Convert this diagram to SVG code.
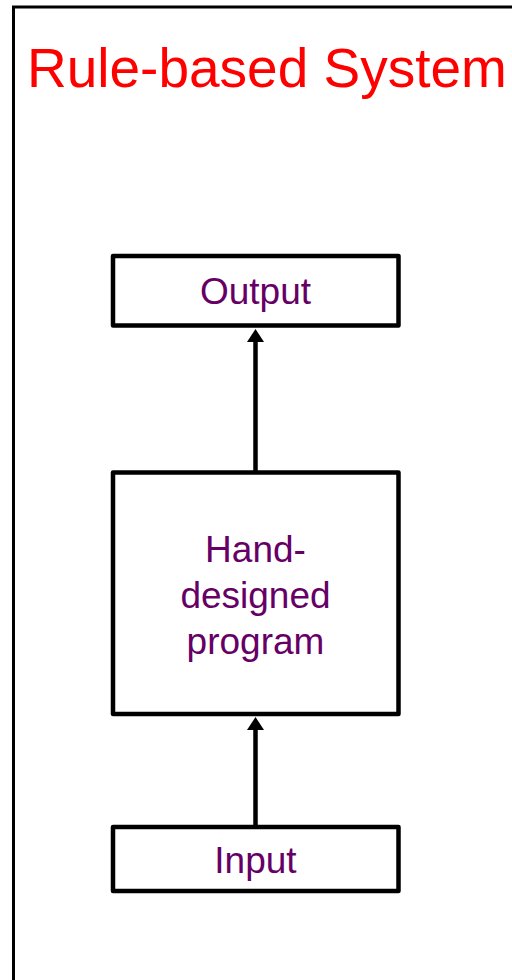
<svg xmlns="http://www.w3.org/2000/svg" width="512" height="980" viewBox="0 0 512 980">
  <style>
    .box { fill: #ffffff; stroke: #000000; stroke-width: 4.5; stroke-linejoin: round; }
    .lbl { font-family: "Liberation Sans", Arial, sans-serif; font-size: 37px; fill: #660066; text-anchor: middle; }
    .title { font-family: "Liberation Sans", Arial, sans-serif; font-size: 55px; fill: #ff0000; }
    .conn { stroke: #000000; stroke-width: 4.5; fill: none; }
  </style>
  <defs>
    <marker id="arrow" markerUnits="userSpaceOnUse" markerWidth="13" markerHeight="17" viewBox="0 0 13 17" refX="7" refY="8.5" orient="auto">
      <path d="M0,0 L13,8.5 L0,17 z" fill="#000000"/>
    </marker>
  </defs>
  <rect x="0" y="0" width="512" height="980" fill="#ffffff"/>
  <g id="frame">
    <rect x="13.5" y="7" width="600" height="1000" fill="none" stroke="#000000" stroke-width="3"/>
  </g>
  <g id="title">
    <text class="title" x="27" y="87">Rule-based System</text>
  </g>
  <g id="connectors">
    <line class="conn" x1="255.5" y1="472" x2="255.5" y2="335" marker-end="url(#arrow)"/>
    <line class="conn" x1="255.5" y1="827" x2="255.5" y2="723" marker-end="url(#arrow)"/>
  </g>
  <g id="output">
    <rect class="box" x="113" y="256" width="285.5" height="69.5"/>
    <text class="lbl" x="255.5" y="304">Output</text>
  </g>
  <g id="program">
    <rect class="box" x="113" y="472.5" width="285.5" height="241.5"/>
    <text class="lbl" x="255.5" y="562">Hand-</text>
    <text class="lbl" x="255.5" y="608">designed</text>
    <text class="lbl" x="255.5" y="654">program</text>
  </g>
  <g id="input">
    <rect class="box" x="113" y="827" width="285.5" height="64"/>
    <text class="lbl" x="255.5" y="873">Input</text>
  </g>
</svg>
